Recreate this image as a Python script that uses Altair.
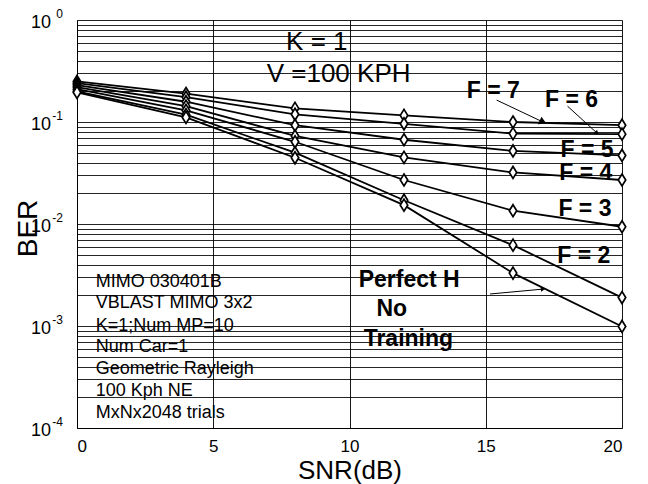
import altair as alt
import pandas as pd

# ---------------- data ----------------
snr = [0, 4, 8, 12, 16, 20]
series_names = ["F = 7", "F = 6", "F = 5", "F = 4", "F = 3", "F = 2", "Perfect H"]
ber_f7 = [0.250, 0.190, 0.136, 0.116, 0.100, 0.093]
ber_f6 = [0.240, 0.175, 0.119, 0.096, 0.077, 0.076]
ber_f5 = [0.230, 0.158, 0.093, 0.067, 0.052, 0.047]
ber_f4 = [0.220, 0.143, 0.073, 0.045, 0.032, 0.027]
ber_f3 = [0.210, 0.130, 0.064, 0.027, 0.0135, 0.0094]
ber_f2 = [0.200, 0.118, 0.050, 0.0171, 0.0062, 0.0019]
ber_perfect = [0.195, 0.111, 0.0446, 0.0153, 0.0033, 0.00099]

x_ticks = [0, 5, 10, 15, 20]
decades = [1, 0.1, 0.01, 0.001, 0.0001]
exponents = ["0", "-1", "-2", "-3", "-4"]

info_lines = ["MIMO 030401B", "VBLAST MIMO 3x2", "K=1;Num MP=10", "Num Car=1",
              "Geometric Rayleigh", "100 Kph NE", "MxNx2048 trials"]
info_y = [0.00271, 0.00167, 0.00100, 0.00062, 0.000378, 0.000228, 0.000140]

big_labels = ["K = 1", "V =100 KPH"]
big_x = [8.8, 9.6]
big_y = [0.61, 0.298]

f_labels = ["F = 7", "F = 6", "F = 5", "F = 4", "F = 3", "F = 2", "Perfect H", "No", "Training"]
f_x = [15.28, 18.15, 18.72, 18.67, 18.64, 18.6, 12.19, 11.55, 12.16]
f_y = [0.20, 0.165, 0.0535, 0.0315, 0.01416, 0.00491, 0.00285, 0.001465, 0.00074]

arrow_x = [15.4, 18.0, 15.16]
arrow_y = [0.164, 0.143, 0.00206]
arrow_x2 = [17.1, 19.08, 17.1]
arrow_y2 = [0.100, 0.078, 0.0023]
arrow_angle = [25.6, 43.0, 354.6]
arrow_size = [70, 25, 25]

# ---------------- tables ----------------
all_series = [ber_f7, ber_f6, ber_f5, ber_f4, ber_f3, ber_f2, ber_perfect]
rows = []
for name, vals in zip(series_names, all_series):
    for s, b in zip(snr, vals):
        rows.append({"series": name, "snr": s, "ber": b})
df = pd.DataFrame(rows)

grid_vals = [k * 10.0 ** e for e in range(-4, 0) for k in range(1, 10)] + [1.0]

FONT = "Liberation Sans"
xscale = alt.Scale(domain=[0, 20], nice=False, zero=False)
yscale = alt.Scale(type="log", domain=[0.0001, 1], nice=False)

W, H = 545, 408

base_x = alt.X("snr:Q", scale=xscale,
               axis=alt.Axis(values=x_ticks, grid=True, gridColor="black", gridOpacity=0.9,
                             gridWidth=1, tickSize=0, labelFontSize=17, labelPadding=10,
                             labelColor="black", labelFont=FONT, domainColor="black",
                             title="SNR(dB)", titleFontSize=26, titleFontWeight="normal",
                             titleFont=FONT, titleColor="black", titlePadding=3))
base_y = alt.Y("ber:Q", scale=yscale,
               axis=alt.Axis(values=grid_vals, grid=True, gridColor="black", gridOpacity=0.85,
                             gridWidth=1, tickSize=0, labels=False, domainColor="black",
                             title="BER", titleFontSize=28, titleFontWeight="normal",
                             titleFont=FONT, titleColor="black", titleX=-41, titleY=208,
                             titleAngle=270, titleAlign="center", titleBaseline="alphabetic"))

lines = alt.Chart(df).mark_line(color="black", strokeWidth=1.8).encode(
    x=base_x, y=base_y, detail="series:N", order="snr:Q")

diamond = "M0,-1L0.62,0L0,1L-0.62,0Z"
points = alt.Chart(df).mark_point(shape=diamond, size=144, fill="white", stroke="black",
                                  strokeWidth=1.7, opacity=1, fillOpacity=1).encode(
    x="snr:Q", y="ber:Q")

dec_df = pd.DataFrame({"v": decades, "e": exponents})
ten = alt.Chart(dec_df).mark_text(text="10", align="right", baseline="middle", dy=3,
                                  fontSize=18, font=FONT, color="black").encode(
    x=alt.value(-26), y=alt.Y("v:Q", scale=yscale))
exps = alt.Chart(dec_df).mark_text(align="right", baseline="alphabetic", dy=-2,
                                   fontSize=12, font=FONT, color="black").encode(
    x=alt.value(-14), y=alt.Y("v:Q", scale=yscale), text="e:N")

info_df = pd.DataFrame({"t": info_lines, "y": info_y, "x": [0.69] * len(info_lines)})
info = alt.Chart(info_df).mark_text(align="left", baseline="middle", fontSize=18,
                                    font=FONT, color="black").encode(
    x=alt.X("x:Q", scale=xscale), y=alt.Y("y:Q", scale=yscale), text="t:N")

big_df = pd.DataFrame({"t": big_labels, "x": big_x, "y": big_y})
big = alt.Chart(big_df).mark_text(align="center", baseline="middle", fontSize=26,
                                  font=FONT, color="black").encode(
    x=alt.X("x:Q", scale=xscale), y=alt.Y("y:Q", scale=yscale), text="t:N")

f_df = pd.DataFrame({"t": f_labels, "x": f_x, "y": f_y})
flab = alt.Chart(f_df).mark_text(align="center", baseline="middle", fontSize=23,
                                 fontWeight="bold", font=FONT, color="black").encode(
    x=alt.X("x:Q", scale=xscale), y=alt.Y("y:Q", scale=yscale), text="t:N")

arr_df = pd.DataFrame({"x": arrow_x, "y": arrow_y, "x2": arrow_x2, "y2": arrow_y2,
                       "ang": arrow_angle, "sz": arrow_size})
arr_lines = alt.Chart(arr_df).mark_rule(color="black", strokeWidth=1).encode(
    x=alt.X("x:Q", scale=xscale), y=alt.Y("y:Q", scale=yscale), x2="x2:Q", y2="y2:Q")
arr_heads = alt.Chart(arr_df).mark_point(shape="triangle-right", filled=True, color="black",
                                         opacity=1).encode(
    x=alt.X("x2:Q", scale=xscale), y=alt.Y("y2:Q", scale=yscale),
    angle=alt.Angle("ang:Q", scale=None), size=alt.Size("sz:Q", scale=None, legend=None))

chart = alt.layer(lines, points, arr_lines, arr_heads, info, big, flab, ten, exps).properties(
    width=W, height=H,
    autosize=alt.AutoSizeParams(type="none"),
    padding={"left": 69, "top": 12, "right": 14, "bottom": 56},
).configure_view(stroke="black", strokeWidth=1.5).configure(background="white")

chart.save("out.html", embed_options={"renderer": "svg", "actions": False})
